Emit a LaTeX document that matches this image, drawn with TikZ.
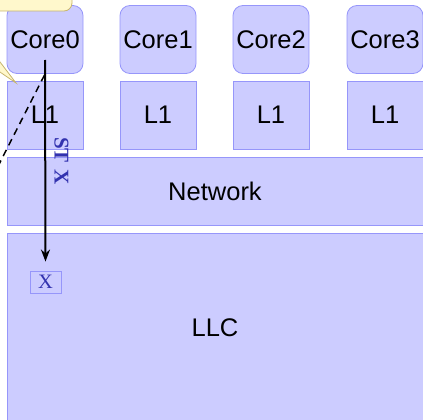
\documentclass[tikz,border=0pt]{standalone}
\usepackage{fontspec}
\newfontfamily\helv{Liberation Sans}
\newfontfamily\tms{Liberation Serif}
\usetikzlibrary{arrows.meta}
\definecolor{boxfill}{RGB}{204,204,255}
\definecolor{boxline}{RGB}{150,150,250}
\definecolor{calfill}{RGB}{255,248,204}
\definecolor{calline}{RGB}{200,182,110}
\definecolor{txtblue}{RGB}{50,50,175}
\tikzset{
  unitbox/.style={draw=boxline, fill=boxfill, line width=0.8pt, inner sep=0pt,
    font=\helv\fontsize{25.5}{28}\selectfont, text=black},
  corebox/.style={unitbox, rounded corners=10pt, minimum width=76pt, minimum height=68pt},
  l1box/.style={unitbox, minimum width=76pt, minimum height=68pt},
  callout/.style={draw=calline, fill=calfill, line width=0.8pt},
  flow/.style={line width=2pt, -{Stealth[length=12pt,width=9pt]}},
}
\begin{document}
\begin{tikzpicture}[x=1pt,y=-1pt]
\useasboundingbox (0,0) rectangle (423,420);
% cores
\foreach \i/\x in {0/45,1/158,2/271,3/385}{
  \node[corebox] (core\i) at (\x,39.5) {Core\i};
  \node[l1box] (l1\i) at (\x,115) {L1};
}
\node[unitbox, minimum width=416pt, minimum height=68pt] (net) at (215,191) {Network};
\node[unitbox, minimum width=416pt, minimum height=190pt] (llc) at (215,328) {};
\node[font=\helv\fontsize{25.5}{28}\selectfont] (llclabel) at (215,328) {LLC};
% callouts (mostly outside the frame)
\draw[callout, rounded corners=8pt] (-40,-40) rectangle (72,11);
\draw[callout] (-80,20) -- (-3,20) -- (-3,58) -- (16,83) -- (-3,70) -- (-3,100) -- (-80,100) -- cycle;
% X entry
\node[draw=boxline, line width=0.9pt, minimum width=31pt, minimum height=22pt, inner sep=0pt,
      text=txtblue, font=\tms\fontsize{20.5}{24}\selectfont] (xbox) at (45.5,282) {X};
% dashed line
\coordinate (dstart) at (44.5,75);
\coordinate (dend) at (-10,182);
\draw[line width=1.5pt, dash pattern=on 7pt off 5pt] (dstart) -- (dend);
% store arrow
\coordinate (astart) at (45,60);
\draw[flow] (astart) -- ([yshift=9pt]xbox.north);
\node[rotate=-90, text=txtblue, font=\tms\bfseries\fontsize{21}{24}\selectfont] (stx) at (61.5,161) {ST\,\,X};
\end{tikzpicture}
\end{document}
